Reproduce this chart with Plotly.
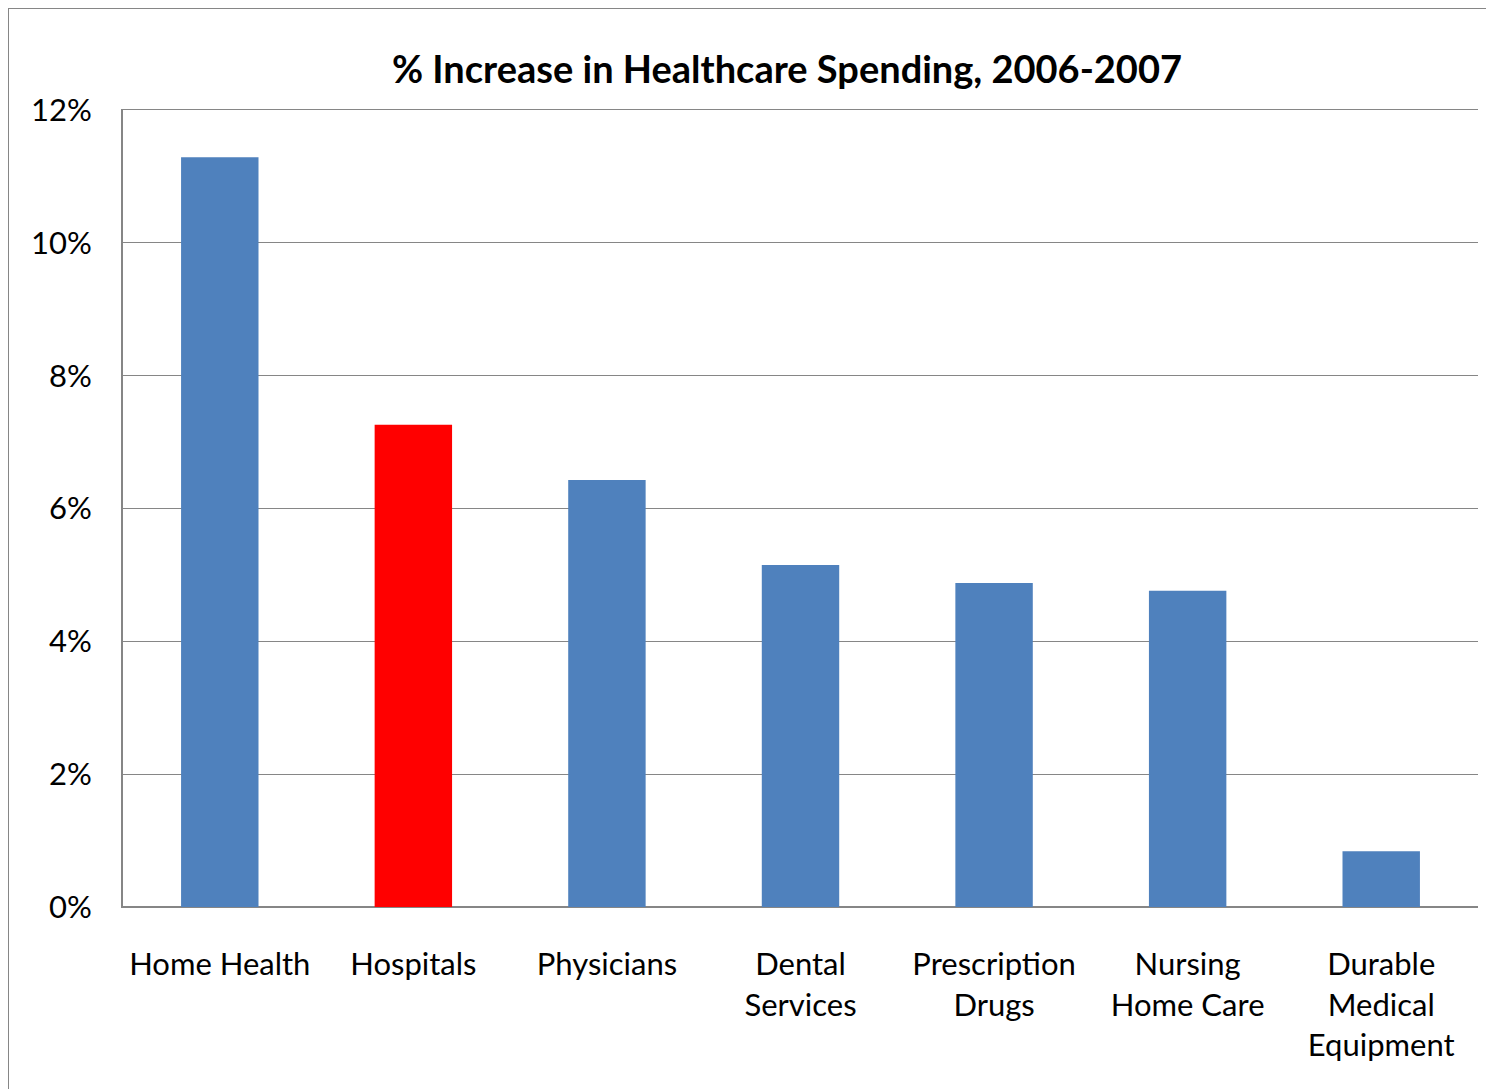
import plotly.graph_objects as go

categories = ["Home Health", "Hospitals", "Physicians", "Dental<br>Services",
              "Prescription<br>Drugs", "Nursing<br>Home Care", "Durable<br>Medical<br>Equipment"]
values = [11.29, 7.26, 6.43, 5.15, 4.88, 4.76, 0.84]
bar_colors = ["#4F81BD", "#FF0000", "#4F81BD", "#4F81BD", "#4F81BD", "#4F81BD", "#4F81BD"]
y_ticks = [0, 2, 4, 6, 8, 10, 12]
y_tick_labels = ["0%", "2%", "4%", "6%", "8%", "10%", "12%"]

FONT = "Lato, Carlito, Calibri, sans-serif"

fig = go.Figure(go.Bar(x=categories, y=values, marker=dict(color=bar_colors, line=dict(width=0)),
                       hoverinfo="x+y"))

OFF = 8  # page body offset
W, H = 1494 - OFF, 1089 - OFF
L, T = 123 - OFF, 110 - OFF
R = W - (1478 - OFF)
B = H - (907 - OFF)
pw, ph = W - L - R, H - T - B

fig.update_layout(
    width=W, height=H,
    margin=dict(l=L, r=R, t=T, b=B),
    paper_bgcolor="white", plot_bgcolor="white",
    bargap=0.60,
    showlegend=False,
    font=dict(family=FONT, color="black", size=31),
    title=dict(text="<b>% Increase in Healthcare Spending, 2006-2007</b>",
               x=(787 - 123) / pw, xref="paper", xanchor="center",
               y=1 - (70 - OFF) / H, yref="container", yanchor="middle",
               font=dict(family=FONT, size=38, color="black")),
    xaxis=dict(showgrid=False, showline=True, mirror=True, linecolor="#868686", linewidth=1,
               ticks="", ticklabelstandoff=30,
               tickfont=dict(family=FONT, size=31, color="black")),
    yaxis=dict(range=[0, 12], tickvals=y_ticks, ticktext=y_tick_labels,
               showgrid=True, gridcolor="#868686", gridwidth=1,
               showline=True, linecolor="#868686", linewidth=2,
               zeroline=True, zerolinecolor="#868686", zerolinewidth=2,
               ticks="", ticklabelstandoff=23,
               tickfont=dict(family=FONT, size=31, color="black")),
    shapes=[dict(type="rect", xref="paper", yref="paper",
                 x0=-(L - 0) / pw, x1=(W + 10 - L) / pw,
                 y0=-(B + 10) / ph, y1=1 + T / ph,
                 line=dict(color="#868686", width=2), fillcolor="rgba(0,0,0,0)",
                 layer="below")],
)

fig.write_html("out.html")
